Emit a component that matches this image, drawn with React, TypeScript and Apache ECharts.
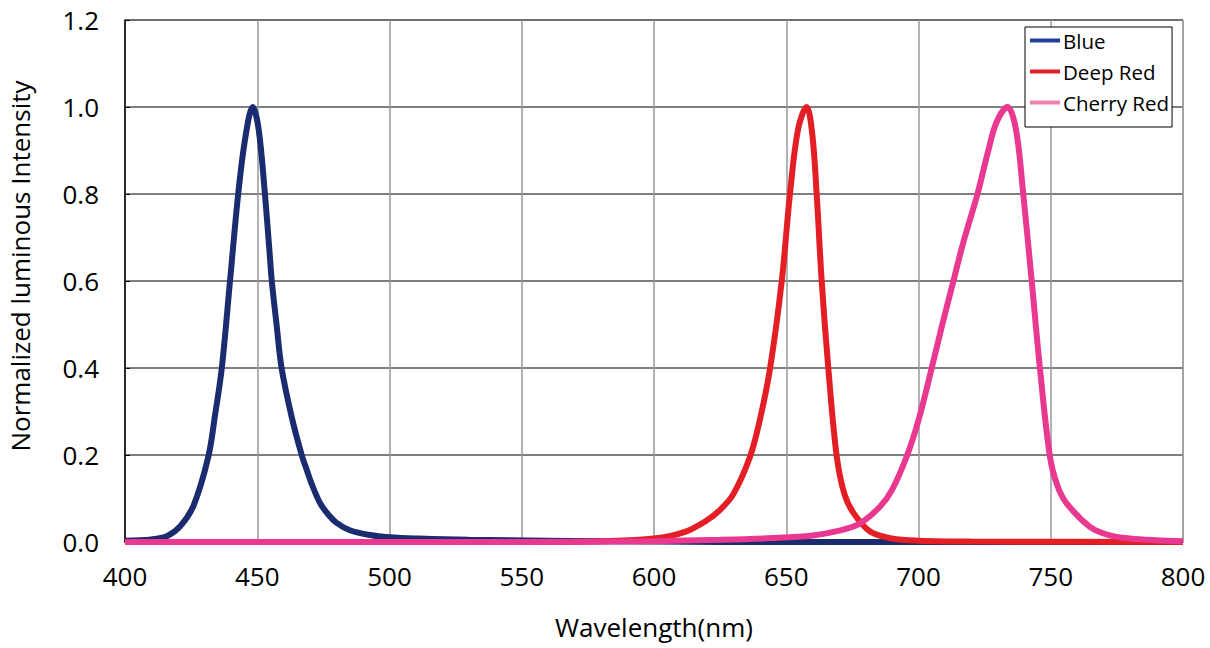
import React, { useEffect, useRef } from "react";
import * as echarts from "echarts";

const xTicks = [400, 450, 500, 550, 600, 650, 700, 750, 800];
const yTicks = [0, 0.2, 0.4, 0.6, 0.8, 1.0, 1.2];

const seriesNames = ["Blue", "Deep Red", "Cherry Red"];

const blueWavelengths = [400, 410, 416, 421, 426, 431.5, 434, 436.6, 439.7, 442.8, 445.5, 448.3, 450.5, 452.9, 454.6, 455.5, 457.3, 459.2, 463, 466.8, 468.7, 470.5, 473.7, 477, 480, 485, 492.6, 500, 511, 530, 560, 600, 650, 700, 800];
const blueValues = [0.003, 0.006, 0.014, 0.037, 0.085, 0.196, 0.29, 0.4, 0.6, 0.8, 0.93, 1.0, 0.95, 0.8, 0.67, 0.6, 0.5, 0.4, 0.288, 0.2, 0.166, 0.135, 0.09, 0.062, 0.044, 0.027, 0.016, 0.011, 0.008, 0.005, 0.003, 0.001, 0, 0, 0];

const redWavelengths = [400, 550, 580, 600, 612, 620, 625, 630, 636.3, 640, 643.9, 648.3, 651.4, 654.5, 657.7, 659.8, 661.5, 663.4, 665.9, 669.1, 672, 675.4, 681.7, 690, 700, 720, 800];
const redValues = [0, 0, 0.002, 0.008, 0.024, 0.05, 0.074, 0.11, 0.196, 0.28, 0.4, 0.6, 0.8, 0.95, 1.0, 0.94, 0.8, 0.6, 0.4, 0.196, 0.11, 0.067, 0.024, 0.008, 0.003, 0.001, 0];

const cherryWavelengths = [400, 550, 600, 625, 645, 660, 670, 677.9, 685.4, 690, 695.5, 700, 705, 709, 713.2, 717, 722.3, 726.4, 729.5, 733.6, 736.8, 739.6, 742.8, 745.9, 749.7, 752.5, 756, 764.8, 772, 780, 790, 800];
const cherryValues = [0, 0, 0.002, 0.005, 0.009, 0.015, 0.026, 0.043, 0.081, 0.12, 0.196, 0.28, 0.4, 0.5, 0.6, 0.69, 0.8, 0.9, 0.965, 1.0, 0.95, 0.8, 0.6, 0.4, 0.196, 0.13, 0.089, 0.035, 0.016, 0.008, 0.004, 0.002];

const lineColors = ["#1b2b70", "#e31e24", "#e83890"];
const legendColors = ["#1f3f98", "#dc1f2c", "#ee80b4"];

const zip = (xs: number[], ys: number[]) => xs.map((x, i) => [x, ys[i]]);

export default function App() {
  const ref = useRef<HTMLDivElement>(null);
  useEffect(() => {
    document.body.style.margin = "0";
    const chart = echarts.init(ref.current!, null, { renderer: "svg" });
    const font = "'Open Sans', 'Noto Sans', sans-serif";
    const datasets = [zip(blueWavelengths, blueValues), zip(redWavelengths, redValues), zip(cherryWavelengths, cherryValues)];
    chart.setOption({
      animation: false,
      backgroundColor: "#fff",
      textStyle: { fontFamily: font, color: "#000" },
      grid: { left: 125, right: 27, top: 20, bottom: 106, show: true, borderColor: "#888", borderWidth: 1, outerBoundsMode: "none", containLabel: false },
      legend: {
        orient: "vertical",
        left: 1025,
        top: 27,
        backgroundColor: "#fff",
        borderColor: "#000",
        borderWidth: 1,
        padding: [3, 3, 14, 5],
        itemGap: 10,
        itemWidth: 30,
        itemHeight: 4,
        icon: "rect",
        textStyle: { fontSize: 20.5, color: "#000", fontFamily: font, padding: [0, 0, 0, -2] },
        data: seriesNames.map((n, i) => ({ name: n, itemStyle: { color: legendColors[i] } })),
      },
      xAxis: {
        type: "value",
        min: xTicks[0],
        max: xTicks[xTicks.length - 1],
        interval: 50,
        name: "Wavelength(nm)",
        nameLocation: "middle",
        nameGap: 72,
        nameTextStyle: { fontSize: 26, color: "#000", fontFamily: font },
        axisLine: { show: true, lineStyle: { color: "#000", width: 1 } },
        axisTick: { show: false },
        axisLabel: { fontSize: 26, color: "#000", margin: 21, fontFamily: font },
        splitLine: { show: true, lineStyle: { color: "#999", width: 1.5 } },
      },
      yAxis: {
        type: "value",
        min: yTicks[0],
        max: yTicks[yTicks.length - 1],
        interval: 0.2,
        name: "Normalized luminous Intensity",
        nameLocation: "middle",
        nameGap: 92,
        nameTextStyle: { fontSize: 26, color: "#000", fontFamily: font, padding: [0, 0, 0, 30] },
        axisLine: { show: true, lineStyle: { color: "#000", width: 1.5 } },
        axisTick: { show: true, inside: true, length: 5, lineStyle: { color: "#000" } },
        axisLabel: { fontSize: 26, color: "#000", margin: 26, fontFamily: font, formatter: (v: number) => v.toFixed(1) },
        splitLine: { show: true, lineStyle: { color: "#555", width: 1.5 } },
      },
      series: datasets.map((d, i) => ({
        name: seriesNames[i],
        type: "line",
        data: d,
        showSymbol: false,
        smooth: 0.35,
        itemStyle: { color: lineColors[i] },
        lineStyle: { color: lineColors[i], width: 6 },
        z: 2 + i,
      })),
    });
    return () => chart.dispose();
  }, []);
  return <div ref={ref} style={{ width: 1210, height: 648 }} />;
}
